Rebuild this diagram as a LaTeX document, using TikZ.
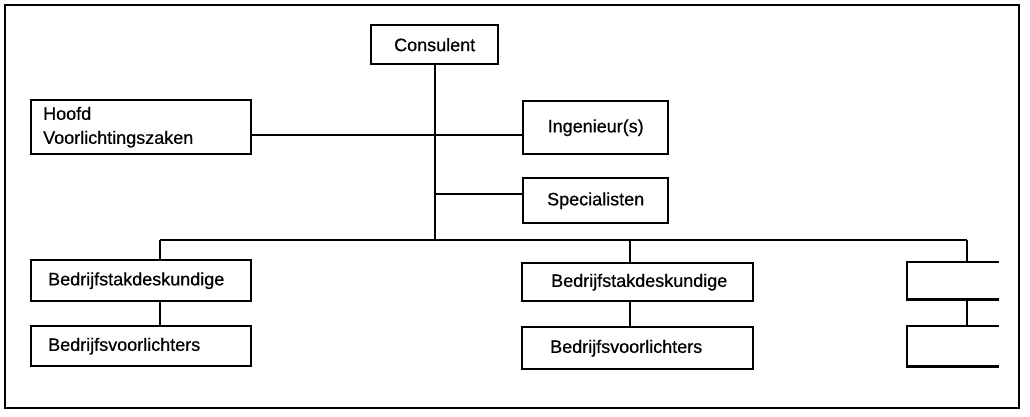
\documentclass[tikz,border=0pt]{standalone}
\usepackage{fontspec}
\setmainfont[FakeBold=0.6]{Liberation Sans}
\begin{document}
\begin{tikzpicture}[x=1pt,y=-1pt,
  every node/.style={font=\fontsize{18}{24}\selectfont},
  unit/.style={draw,line width=2.4pt,rectangle,anchor=north west,inner ysep=0pt},
  openunit/.style={rectangle,anchor=north west,inner sep=0pt},
  link/.style={line width=2pt},
  frame/.style={line width=1.8pt}]
\useasboundingbox (0,0) rectangle (1030,416);
% outer frame
\draw[frame] (5,5) rectangle (1019,408);

% top level
\node[unit,minimum width=127pt,minimum height=39pt] (cons) at (370,24) {Consulent};
\node[unit,minimum width=220pt,minimum height=54pt,text width=196pt,inner xsep=12pt,align=left] (hoofd) at (30,99) {Hoofd\\Voorlichtingszaken};
\node[unit,minimum width=145pt,minimum height=53pt] (ing) at (522,100) {Ingenieur(s)};
\node[unit,minimum width=145pt,minimum height=45pt] (spec) at (522,177) {Specialisten};

% branch units
\node[unit,minimum width=220pt,minimum height=41pt,text width=186pt,inner xsep=17pt,align=left] (bsd1) at (30,259) {Bedrijfstakdeskundige};
\node[unit,minimum width=220pt,minimum height=40pt,text width=186pt,inner xsep=17pt,align=left] (bv1) at (30,325) {Bedrijfsvoorlichters};
\node[unit,minimum width=231pt,minimum height=38pt,text width=173pt,inner xsep=29pt,align=left] (bsd2) at (521,262) {Bedrijfstakdeskundige};
\node[unit,minimum width=231pt,minimum height=42pt,text width=175pt,inner xsep=28pt,align=left] (bv2) at (521,326) {Bedrijfsvoorlichters};
\node[openunit,minimum width=92pt,minimum height=37pt] (bsd3) at (907,262) {};
\node[openunit,minimum width=92pt,minimum height=40pt] (bv3) at (907,326) {};
\draw[line width=2.4pt] (bsd3.north east) -- (bsd3.north west) -- (bsd3.south west) -- (bsd3.south east);
\draw[line width=2.4pt] (bv3.north east) -- (bv3.north west) -- (bv3.south west) -- (bv3.south east);

% connectors
\coordinate (busL) at (160,240);
\coordinate (busM) at (630,240);
\coordinate (busR) at (967,240);
\coordinate (hj) at ([yshift=-8pt]hoofd.east);
\coordinate (sj) at ([yshift=7pt]spec.west);

\draw[link] (cons.south) -- (cons.south |- busL);
\draw[link] (hj) -- (hj -| ing.west);
\draw[link] (sj) -- (sj -| cons.south);
\draw[link] (busL) -- (busR);
\draw[link] (busL) -- (busL |- bsd1.north);
\draw[link] (busM) -- (busM |- bsd2.north);
\draw[link] (busR) -- (busR |- bsd3.north);
\draw[link] (bsd1.south -| busL) -- (bv1.north -| busL);
\draw[link] (bsd2.south -| busM) -- (bv2.north -| busM);
\draw[link] (bsd3.south -| busR) -- (bv3.north -| busR);
\end{tikzpicture}
\end{document}
